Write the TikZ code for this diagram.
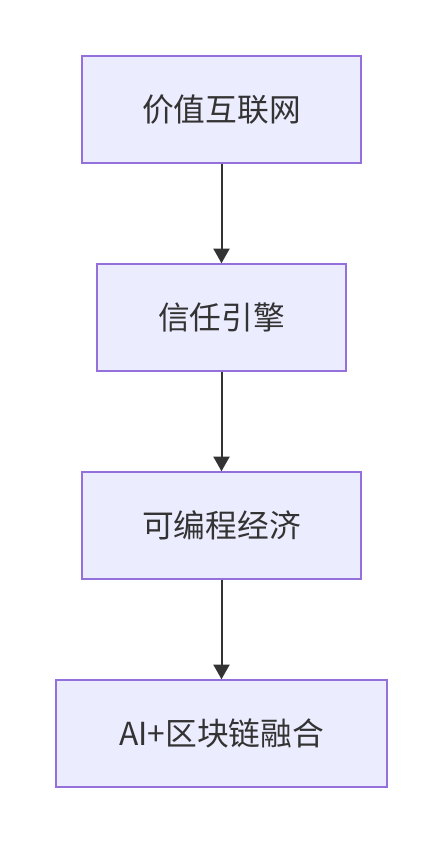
\documentclass[tikz,border=0pt]{standalone}
\usepackage{fontspec}
\newfontfamily\cjk{Noto Sans CJK SC}
\usetikzlibrary{arrows.meta}
\definecolor{boxfill}{HTML}{ECECFF}
\definecolor{boxline}{HTML}{9370DB}
\definecolor{ink}{HTML}{333333}
\tikzset{
  stagebox/.style={draw=boxline, fill=boxfill, line width=1.1pt, minimum height=80.25pt,
    inner sep=0pt, text=ink, font=\cjk\fontsize{23.8}{28}\selectfont},
  flow/.style={draw=ink, line width=1.5pt, -{Triangle[length=11pt,width=12pt]}}
}
\begin{document}
\begin{tikzpicture}[x=0.75pt,y=-0.75pt]
      \useasboundingbox (0,0) rectangle (443,844);
      \node[stagebox, minimum width=209.25pt] (web) at (221.5,109.5) {价值互联网};
      \node[stagebox, minimum width=186.75pt] (trust) at (221.5,317.5) {信任引擎};
      \node[stagebox, minimum width=209.25pt] (econ) at (221.5,525.5) {可编程经济};
      \node[stagebox, minimum width=248.25pt] (fusion) at (221.5,733.5) {AI+区块链融合};
      \draw[flow] (web) -- (trust);
      \draw[flow] (trust) -- (econ);
      \draw[flow] (econ) -- (fusion);
\end{tikzpicture}
\end{document}
